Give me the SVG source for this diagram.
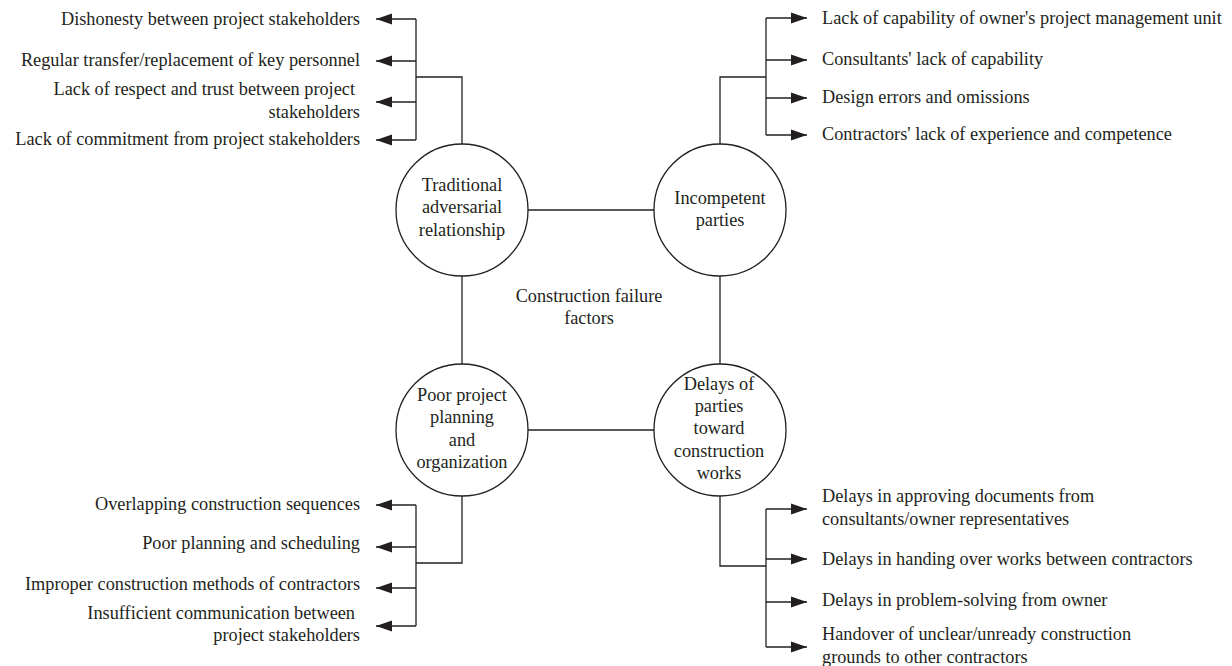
<svg xmlns="http://www.w3.org/2000/svg" width="1232" height="666" viewBox="0 0 1232 666">
<defs>
<style>
text{font-family:"Liberation Serif","Times New Roman",serif;font-size:18.3px;fill:#231f20}
.l{text-anchor:end}
.c{text-anchor:middle}
.ln{fill:none;stroke:#231f20;stroke-width:1.3}
.ar{fill:none;stroke:#231f20;stroke-width:1.3;marker-end:url(#ah)}
circle{fill:#fff;stroke:#231f20;stroke-width:1.3}
</style>
<marker id="ah" markerUnits="userSpaceOnUse" markerWidth="17" markerHeight="12" viewBox="0 0 17 12" refX="16" refY="6" orient="auto">
<path d="M0,0.5 L16,6 L0,11.5 z" fill="#231f20"/>
</marker>
</defs>
<rect width="1232" height="666" fill="#fff"/>
<g id="connectors">
<line class="ln" x1="528" y1="210" x2="654" y2="210"/>
<line class="ln" x1="528" y1="430" x2="654" y2="430"/>
<line class="ln" x1="462" y1="276" x2="462" y2="364"/>
<line class="ln" x1="720" y1="276" x2="720" y2="364"/>
<polyline class="ln" points="462,144 462,77 416,77"/>
<line class="ln" x1="416" y1="19" x2="416" y2="140"/>
<line class="ar" x1="416" y1="19" x2="376" y2="19"/>
<line class="ar" x1="416" y1="61" x2="376" y2="61"/>
<line class="ar" x1="416" y1="102" x2="376" y2="102"/>
<line class="ar" x1="416" y1="140" x2="376" y2="140"/>
<polyline class="ln" points="720,144 720,77 766,77"/>
<line class="ln" x1="766" y1="18" x2="766" y2="135"/>
<line class="ar" x1="766" y1="18" x2="807" y2="18"/>
<line class="ar" x1="766" y1="60" x2="807" y2="60"/>
<line class="ar" x1="766" y1="98" x2="807" y2="98"/>
<line class="ar" x1="766" y1="135" x2="807" y2="135"/>
<polyline class="ln" points="462,496 462,563 416,563"/>
<line class="ln" x1="416" y1="505" x2="416" y2="626"/>
<line class="ar" x1="416" y1="505" x2="376" y2="505"/>
<line class="ar" x1="416" y1="547" x2="376" y2="547"/>
<line class="ar" x1="416" y1="588" x2="376" y2="588"/>
<line class="ar" x1="416" y1="626" x2="376" y2="626"/>
<polyline class="ln" points="720,496 720,566 766,566"/>
<line class="ln" x1="766" y1="509" x2="766" y2="647"/>
<line class="ar" x1="766" y1="509" x2="807" y2="509"/>
<line class="ar" x1="766" y1="559" x2="807" y2="559"/>
<line class="ar" x1="766" y1="602" x2="807" y2="602"/>
<line class="ar" x1="766" y1="647" x2="807" y2="647"/>
</g>
<g id="node-traditional">
<circle cx="462" cy="210" r="66"/>
<text class="c" x="462" y="191">Traditional</text>
<text class="c" x="462" y="213">adversarial</text>
<text class="c" x="462" y="236">relationship</text>
</g>
<g id="node-incompetent">
<circle cx="720" cy="210" r="66"/>
<text class="c" x="720" y="204">Incompetent</text>
<text class="c" x="720" y="226">parties</text>
</g>
<g id="node-poor">
<circle cx="462" cy="430" r="66"/>
<text class="c" x="462" y="401">Poor project</text>
<text class="c" x="462" y="423">planning</text>
<text class="c" x="462" y="446">and</text>
<text class="c" x="462" y="468">organization</text>
</g>
<g id="node-delays">
<circle cx="720" cy="430" r="66"/>
<text class="c" x="719" y="390">Delays of</text>
<text class="c" x="719" y="412">parties</text>
<text class="c" x="719" y="434">toward</text>
<text class="c" x="719" y="457">construction</text>
<text class="c" x="719" y="479">works</text>
</g>
<g id="center-label">
<text class="c" x="589" y="302">Construction failure</text>
<text class="c" x="589" y="324">factors</text>
</g>
<g id="labels-traditional">
<text class="l" x="360" y="25">Dishonesty between project stakeholders</text>
<text class="l" x="360" y="66">Regular transfer/replacement of key personnel</text>
<text class="l" x="355" y="95">Lack of respect and trust between project</text>
<text class="l" x="360" y="118">stakeholders</text>
<text class="l" x="360" y="145">Lack of commitment from project stakeholders</text>
</g>
<g id="labels-incompetent">
<text x="822" y="24">Lack of capability of owner's project management unit</text>
<text x="822" y="65">Consultants' lack of capability</text>
<text x="822" y="103">Design errors and omissions</text>
<text x="822" y="140">Contractors' lack of experience and competence</text>
</g>
<g id="labels-poor">
<text class="l" x="360" y="510">Overlapping construction sequences</text>
<text class="l" x="360" y="549">Poor planning and scheduling</text>
<text class="l" x="360" y="590">Improper construction methods of contractors</text>
<text class="l" x="355" y="619">Insufficient communication between</text>
<text class="l" x="360" y="641">project stakeholders</text>
</g>
<g id="labels-delays">
<text x="822" y="502">Delays in approving documents from</text>
<text x="822" y="525">consultants/owner representatives</text>
<text x="822" y="565">Delays in handing over works between contractors</text>
<text x="822" y="606">Delays in problem-solving from owner</text>
<text x="822" y="640">Handover of unclear/unready construction</text>
<text x="822" y="663">grounds to other contractors</text>
</g>
</svg>
